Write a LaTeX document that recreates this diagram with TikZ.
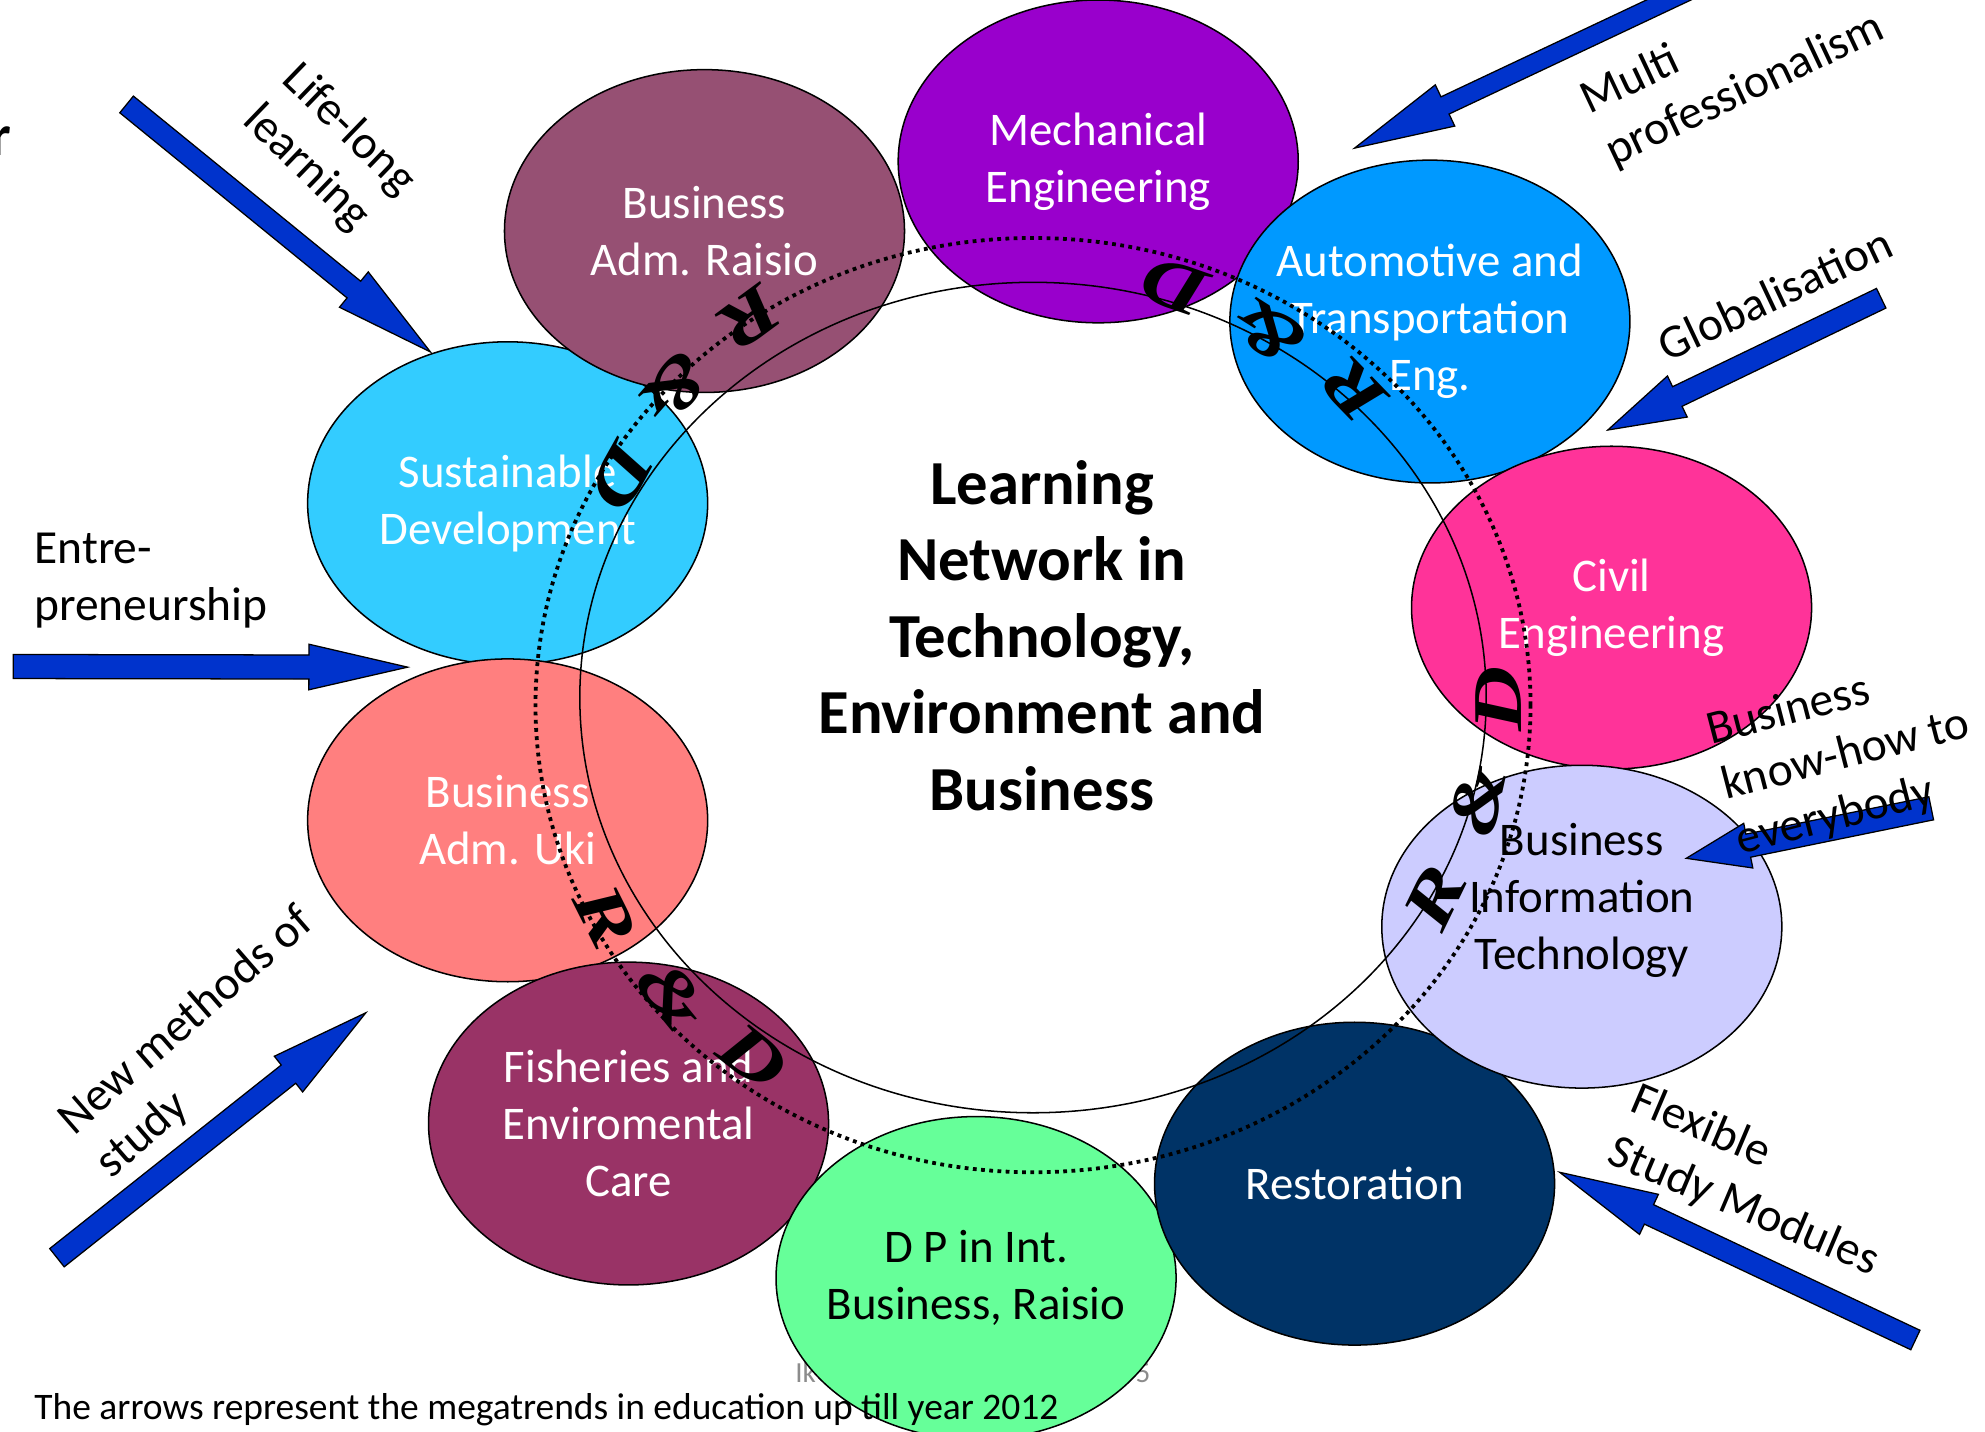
\documentclass[tikz,border=0pt]{standalone}
\usepackage{fontspec}
\setmainfont{Carlito}
\newfontfamily\rdfont{Liberation Serif}
\usetikzlibrary{shapes.geometric,calc}

\definecolor{cSust}{HTML}{33CCFF}
\definecolor{cRaisio}{RGB}{150,80,115}
\definecolor{cMech}{HTML}{9900CC}
\definecolor{cAuto}{HTML}{0099FF}
\definecolor{cCivil}{HTML}{FF3399}
\definecolor{cUki}{HTML}{FF7F7F}
\definecolor{cFish}{HTML}{993366}
\definecolor{cDP}{HTML}{66FF99}
\definecolor{cRest}{HTML}{003366}
\definecolor{cBIT}{HTML}{CCCCFF}
\definecolor{cArrow}{HTML}{0033CC}
\definecolor{cFoot}{RGB}{140,140,140}

\newcommand\blockarr[5]{%
  \coordinate (#1b) at ($(#2)!#5!(#1)$);
  \filldraw[arrowsty] ($(#1)!#3!-90:(#2)$) -- ($(#1b)!#3!90:(#1)$) -- ($(#1b)!#4!90:(#1)$) -- (#2)
     -- ($(#1b)!#4!-90:(#1)$) -- ($(#1b)!#3!-90:(#1)$) -- ($(#1)!#3!90:(#2)$) -- cycle;}

\newcommand\rdl[5]{%
  \begin{scope}[shift={(#2,#3)},rotate=#4,xscale=1.3,transform shape]
    \node[rdsty] (#1) at (0,0) {#5};
  \end{scope}}

\begin{document}
\begin{tikzpicture}[x=1pt,y=-1pt,
  ell/.style={ellipse,draw=black,line width=1.2pt,minimum width=316pt,minimum height=255pt,inner sep=0pt},
  etxt/.style={align=center,inner sep=0pt,font=\fontsize{37}{45}\selectfont,text=white},
  lab/.style={align=left,inner sep=0pt,font=\fontsize{37.5}{45}\selectfont,text=black},
  titlesty/.style={align=center,inner sep=0pt,font=\fontsize{49.5}{60.5}\selectfont\bfseries},
  rdsty/.style={inner sep=0pt,font=\rdfont\bfseries\itshape\fontsize{55}{55}\selectfont},
  arrowsty/.style={fill=cArrow,draw=black,line width=1pt,line join=miter},
  ring/.style={draw=black,line width=1.2pt},
  dotring/.style={draw=black,line width=3pt,dash pattern=on 3pt off 3.5pt}
]
\useasboundingbox (0,0) rectangle (1568,1131);
\clip (0,0) rectangle (1568,1131);
\fill[white] (0,0) rectangle (1568,1131);

% footer text partly hidden
\node[anchor=base west,inner sep=0pt,text=cFoot,font=\fontsize{23}{28}\selectfont] (footl) at (628,1092) {Ik};
\node[anchor=base east,inner sep=0pt,text=cFoot,font=\fontsize{23}{28}\selectfont] (footr) at (909,1092) {5};

% ellipses
\node[ell,fill=cSust] (sust) at (401,397.5) {};
\node[etxt] (sustT) at (sust.center) {Sustainable\\Development};
\node[ell,fill=cRaisio] (raisio) at (556.5,182.5) {};
\node[etxt] (raisioT) at (raisio.center) {Business\\Adm. Raisio};
\node[ell,fill=cMech] (mech) at (867.5,127.5) {};
\node[etxt] (mechT) at (mech.center) {Mechanical\\Engineering};
\node[ell,fill=cAuto] (auto) at (1129.5,254) {};
\node[etxt] (autoT) at (auto.center) {Automotive and\\Transportation\\Eng.};
\node[ell,fill=cCivil] (civil) at (1273,480) {};
\node[etxt] (civilT) at (civil.center) {Civil\\Engineering};
\node[ell,fill=cUki] (uki) at (401,648) {};
\node[etxt] (ukiT) at (uki.center) {Business\\Adm. Uki};
\node[ell,fill=cFish] (fish) at (496.5,887.5) {};
\node[etxt] (fishT) at (fish.center) {Fisheries and\\Enviromental\\Care};
\node[ell,fill=cDP] (dp) at (771,1009.5) {};
\node[etxt,text=black] (dpT) at (dp.center) {D P in Int.\\Business, Raisio};
\node[ell,fill=cRest] (rest) at (1070,935) {};
\node[etxt] (restT) at (rest.center) {Restoration};
\node[ell,fill=cBIT] (bit) at (1249.5,732) {};
\node[etxt,text=black] (bitT) at (1249.5,711) {Business\\Information\\Technology};

% rings
\draw[ring] (816,551) ellipse [x radius=358pt, y radius=328pt];
\draw[dotring] (816,557) ellipse [x radius=393pt, y radius=369pt];

% R&D letters
\rdl{rdRa}{592}{251}{216.4}{R}
\rdl{rdAa}{533}{307}{228.8}{\&}
\rdl{rdDa}{491}{376}{241.2}{D}
\rdl{rdRb}{1070}{309}{134.1}{R}
\rdl{rdAb}{1002}{262}{147.6}{\&}
\rdl{rdDb}{928}{226}{161.2}{D}
\rdl{rdRc}{1134}{709}{64.2}{R}
\rdl{rdAc}{1167}{632}{77.6}{\&}
\rdl{rdDc}{1184}{552}{90.5}{D}
\rdl{rdRd}{478}{724}{296.6}{R}
\rdl{rdAd}{531}{786}{309}{\&}
\rdl{rdDd}{595}{835}{321.7}{D}

% centre title
\node[titlesty] (title) at (823,502) {Learning\\Network in\\Technology,\\Environment and\\Business};

% arrows
\coordinate (a1t) at (100,82.5);   \coordinate (a1h) at (340,278);
\coordinate (a2t) at (1369,-24);   \coordinate (a2h) at (1070,117);
\coordinate (a3t) at (1486,235.6); \coordinate (a3h) at (1270,339.7);
\coordinate (a4t) at (10.5,526.5); \coordinate (a4h) at (322,527);
\coordinate (a5t) at (1525.5,638.5); \coordinate (a5h) at (1332,678);
\coordinate (a6t) at (45,993.5);   \coordinate (a6h) at (289,800);
\coordinate (a7t) at (1513,1058.5); \coordinate (a7h) at (1232,926);
\blockarr{a1t}{a1h}{8.5pt}{18pt}{78pt}
\blockarr{a2t}{a2h}{7.5pt}{18pt}{79pt}
\blockarr{a3t}{a3h}{8.6pt}{18pt}{61pt}
\blockarr{a4t}{a4h}{9.5pt}{18pt}{78pt}
\blockarr{a5t}{a5h}{9.3pt}{18pt}{50pt}
\blockarr{a6t}{a6h}{9.2pt}{18pt}{78pt}
\blockarr{a7t}{a7h}{8.5pt}{17.5pt}{78pt}

% labels
\node[lab,rotate=-44] (lLife) at (260,119) {Life-long\\learning};
\node[lab,rotate=25.2] (lMulti) at (1369,51) {Multi\\professionalism};
\node[lab,rotate=25.2] (lGlob) at (1402,232) {Globalisation};
\node[lab,anchor=west] (lEntre) at (27,459) {Entre-\\preneurship};
\node[lab,rotate=14.5] (lBiz) at (1458,597) {Business\\know-how to\\everybody};
\node[lab,rotate=-23] (lFlex) at (1386,933) {Flexible\\Study Modules};
\node[lab,rotate=41] (lNew) at (162,824) {New methods of\\study};

% caption and fragment
\node[anchor=base west,inner sep=0pt,font=\fontsize{29.6}{35}\selectfont] (caption) at (27,1121) {The arrows represent the megatrends in education up till year 2012};
\node[anchor=base west,inner sep=0pt,font=\fontsize{46}{50}\selectfont\bfseries] (frag) at (-8,123) {r};
\end{tikzpicture}
\end{document}
